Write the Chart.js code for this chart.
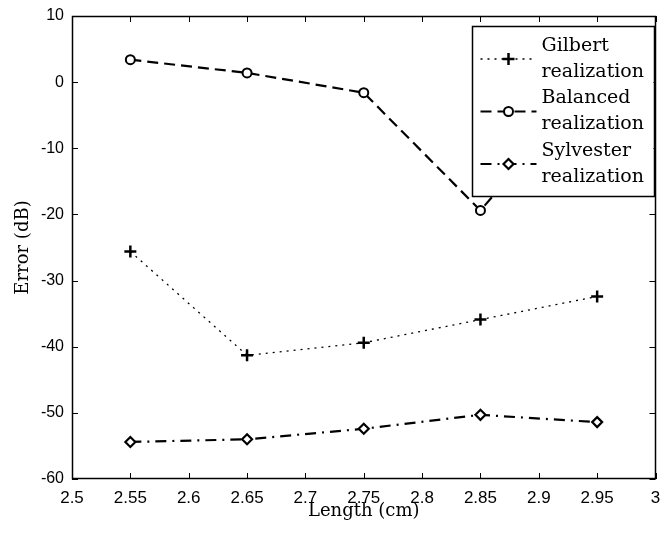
<!DOCTYPE html>
<html>
<head>
<meta charset="utf-8">
<script src="https://cdn.jsdelivr.net/npm/chart.js@4.4.0/dist/chart.umd.min.js"></script>
<style>
  html, body { margin: 0; padding: 0; background: #fff; }
  #wrap { width: 664px; height: 537px; position: relative; }
</style>
</head>
<body>
<div id="wrap"><canvas id="c" width="664" height="537"></canvas></div>
<script>
// ---- data ----
const lengths = [2.55, 2.65, 2.75, 2.85, 2.95];
const gilbert = [-25.6, -41.3, -39.4, -35.9, -32.4];
const balanced = [3.4, 1.4, -1.6, -19.4, 1.0];
const sylvester = [-54.4, -54.0, -52.4, -50.3, -51.4];
const seriesNames = [["Gilbert", "realization"], ["Balanced", "realization"], ["Sylvester", "realization"]];
const xTickValues = [2.5, 2.55, 2.6, 2.65, 2.7, 2.75, 2.8, 2.85, 2.9, 2.95, 3];
const yTickValues = [10, 0, -10, -20, -30, -40, -50, -60];
const xTitle = "Length (cm)";
const yTitle = "Error (dB)";

const pts = (arr) => lengths.map((x, i) => ({ x: x, y: arr[i] }));

const datasets = [
  { label: seriesNames[0].join(' '), data: pts(gilbert), borderColor: '#000', borderWidth: 1.3,
    borderDash: [2, 5], pointStyle: 'cross', pointRadius: 6, pointBorderWidth: 2.5,
    pointBackgroundColor: '#000', pointBorderColor: '#000', fill: false, tension: 0 },
  { label: seriesNames[1].join(' '), data: pts(balanced), borderColor: '#000', borderWidth: 2.2,
    borderDash: [11, 6], pointStyle: 'circle', pointRadius: 4.5, pointBorderWidth: 2,
    pointBackgroundColor: '#fff', pointBorderColor: '#000', fill: false, tension: 0 },
  { label: seriesNames[2].join(' '), data: pts(sylvester), borderColor: '#000', borderWidth: 2.2,
    borderDash: [11, 6, 2, 6], pointStyle: 'rectRot', pointRadius: 5, pointBorderWidth: 2.2,
    pointBackgroundColor: '#fff', pointBorderColor: '#000', fill: false, tension: 0 }
];

const fmt = (v) => String(Number(v.toFixed(2)));

// inward ticks on all four sides + box
const boxTicks = {
  id: 'boxTicks',
  afterDatasetsDraw(chart) {
    const { ctx, chartArea: a, scales } = chart;
    const L = 6;
    ctx.save();
    ctx.strokeStyle = '#000';
    ctx.lineWidth = 1;
    ctx.beginPath();
    xTickValues.forEach(v => {
      const px = Math.round(scales.x.getPixelForValue(v)) + 0.5;
      ctx.moveTo(px, a.bottom); ctx.lineTo(px, a.bottom - L);
      ctx.moveTo(px, a.top); ctx.lineTo(px, a.top + L);
    });
    yTickValues.forEach(v => {
      const py = Math.round(scales.y.getPixelForValue(v)) + 0.5;
      ctx.moveTo(a.left, py); ctx.lineTo(a.left + L, py);
      ctx.moveTo(a.right, py); ctx.lineTo(a.right - L, py);
    });
    ctx.stroke();
    ctx.lineWidth = 1.5;
    ctx.strokeRect(Math.round(a.left) + 0.5, Math.round(a.top) + 0.5,
                   Math.round(a.right - a.left) - 1, Math.round(a.bottom - a.top) - 1);
    ctx.restore();
  }
};

// MATLAB-style legend box (drawn on top)
const boxLegend = {
  id: 'boxLegend',
  afterDraw(chart) {
    const { ctx, chartArea: a } = chart;
    const w = 182, h = 170;
    const right = a.right - 2, top = a.top + 10;
    const left = right - w;
    ctx.save();
    ctx.fillStyle = '#fff';
    ctx.fillRect(left, top, w, h);
    ctx.strokeStyle = '#000';
    ctx.lineWidth = 1.5;
    ctx.strokeRect(Math.round(left) + 0.5, Math.round(top) + 0.5, w, h);
    chart.data.datasets.forEach((ds, i) => {
      const cy = top + 33 + i * 52.5;
      ctx.strokeStyle = ds.borderColor;
      ctx.lineWidth = ds.borderWidth;
      ctx.setLineDash(ds.borderDash || []);
      ctx.beginPath();
      ctx.moveTo(left + 9, cy); ctx.lineTo(left + 65, cy);
      ctx.stroke();
      ctx.setLineDash([]);
      ctx.fillStyle = ds.pointBackgroundColor;
      ctx.strokeStyle = ds.pointBorderColor;
      ctx.lineWidth = ds.pointBorderWidth;
      Chart.helpers.drawPoint(ctx, { pointStyle: ds.pointStyle, radius: ds.pointRadius, borderWidth: ds.pointBorderWidth, rotation: 0 }, left + 37, cy);
      ctx.fillStyle = '#000';
      ctx.font = '19px "DejaVu Serif", serif';
      ctx.textAlign = 'left';
      ctx.textBaseline = 'middle';
      ctx.fillText(seriesNames[i][0], left + 70, cy - 13);
      ctx.fillText(seriesNames[i][1], left + 70, cy + 13);
    });
    ctx.restore();
  }
};

new Chart(document.getElementById('c'), {
  type: 'line',
  data: { datasets: datasets },
  plugins: [boxTicks, boxLegend],
  options: {
    responsive: false,
    animation: false,
    devicePixelRatio: 1,
    layout: { padding: { top: 16, right: 5, left: 0, bottom: 0 } },
    plugins: { legend: { display: false }, tooltip: { enabled: false } },
    scales: {
      x: {
        type: 'linear', min: 2.5, max: 3,
        afterFit: (s) => { s.height = 58; s.paddingLeft = 0; s.paddingRight = 0; },
        afterBuildTicks: (s) => { s.ticks = xTickValues.map(v => ({ value: v })); },
        ticks: { color: '#000', padding: 9, maxRotation: 0, autoSkip: false,
                 font: { family: '"Liberation Sans", Arial, sans-serif', size: 17 },
                 callback: (v) => fmt(v) },
        grid: { display: true, drawOnChartArea: false, drawTicks: false },
        border: { display: false },
        title: { display: true, text: xTitle, color: '#000',
                 font: { family: '"DejaVu Serif", serif', size: 18 },
                 padding: { top: 0, bottom: 15 } }
      },
      y: {
        type: 'linear', min: -60, max: 10,
        afterFit: (s) => { s.width = 72; s.paddingTop = 0; s.paddingBottom = 0; },
        afterBuildTicks: (s) => { s.ticks = yTickValues.slice().reverse().map(v => ({ value: v })); },
        ticks: { color: '#000', padding: 8, autoSkip: false,
                 font: { family: '"Liberation Sans", Arial, sans-serif', size: 16 },
                 callback: (v) => fmt(v) },
        grid: { display: true, drawOnChartArea: false, drawTicks: false },
        border: { display: false },
        title: { display: true, text: yTitle, color: '#000',
                 font: { family: '"DejaVu Serif", serif', size: 18 },
                 padding: { top: 13, bottom: 0 } }
      }
    }
  }
});
</script>
</body>
</html>
